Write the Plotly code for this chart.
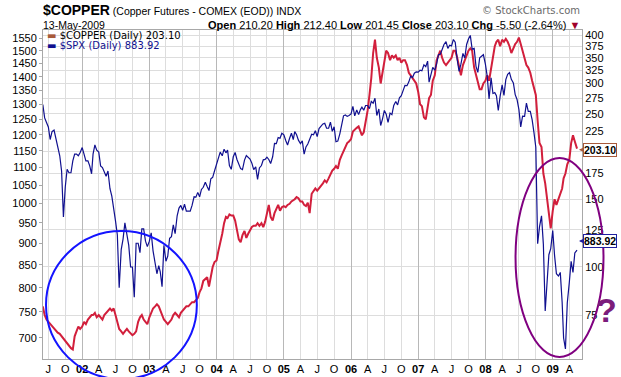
import numpy as np
import plotly.graph_objects as go

# ---------------- data (~3 samples per month) ----------------
day_marks = [1, 11, 21]
first_month = (2001, 6)
last_full_month = (2009, 4)
final_dates = ["2009-05-01", "2009-05-13"]

spx_2001 = [1300, 1255, 1240, 1225, 1185, 1210, 1215, 1190, 1160, 1135, 1090, 965,
            1045, 1095, 1085, 1085, 1120, 1140, 1140, 1135, 1145]
spx_2002 = [1160, 1140, 1120, 1120, 1105, 1082, 1140, 1168, 1152, 1146, 1105, 1100,
            1085, 1075, 1090, 1040, 1020, 990, 955, 920, 800, 885, 910, 950,
            915, 895, 845, 845, 780, 900, 900, 878, 935, 935, 905, 892]
spx_2003 = [905, 925, 882, 855, 830, 848, 835, 802, 895, 858, 870, 912,
            916, 945, 923, 968, 988, 995, 982, 998, 980, 980, 980, 995,
            1018, 1017, 1030, 1018, 1038, 1044, 1058, 1046, 1035, 1068, 1072, 1090]
spx_2004 = [1110, 1127, 1146, 1135, 1155, 1144, 1152, 1106, 1095, 1132, 1145, 1124,
            1112, 1097, 1094, 1122, 1136, 1131, 1125, 1113, 1094, 1102, 1066, 1099,
            1106, 1123, 1124, 1131, 1124, 1112, 1132, 1173, 1172, 1191, 1189, 1205]
spx_2005 = [1200, 1182, 1168, 1189, 1205, 1185, 1210, 1200, 1183, 1172, 1181, 1140,
            1162, 1171, 1189, 1202, 1200, 1213, 1194, 1220, 1227, 1235, 1237, 1221,
            1221, 1241, 1211, 1226, 1178, 1180, 1203, 1235, 1262, 1265, 1260, 1263]
spx_2006 = [1268, 1294, 1262, 1282, 1266, 1283, 1291, 1281, 1297, 1297, 1286, 1311,
            1305, 1322, 1263, 1285, 1230, 1252, 1280, 1267, 1240, 1271, 1266, 1297,
            1311, 1299, 1324, 1331, 1353, 1368, 1367, 1381, 1402, 1397, 1413, 1418]
spx_2007 = [1417, 1424, 1422, 1445, 1438, 1459, 1380, 1406, 1435, 1424, 1448, 1484,
            1486, 1505, 1525, 1536, 1509, 1522, 1519, 1545, 1534, 1465, 1420, 1447,
            1489, 1471, 1525, 1547, 1562, 1506, 1509, 1439, 1416, 1472, 1477, 1484]
spx_2008 = [1447, 1401, 1320, 1396, 1339, 1342, 1331, 1280, 1329, 1370, 1332, 1389,
            1409, 1415, 1390, 1377, 1335, 1318, 1284, 1225, 1261, 1260, 1305, 1277,
            1277, 1249, 1207, 1161, 899, 940, 968, 898, 752, 816, 873, 887]
spx_2009 = [931, 871, 830, 825, 833, 770, 700, 680, 768, 811, 858, 833, 877, 883.92]

copper_2001 = [79, 75, 73, 72, 71, 70, 69, 68, 67.5, 67, 66, 65,
               64, 63, 62.5, 61.5, 61, 66, 68, 70, 69]
copper_2002 = [70, 72, 71, 73, 74, 75, 75, 76, 74, 75, 74, 73,
               75, 76, 77, 78, 77, 78, 75, 72, 69, 68, 67, 68,
               69, 68, 67, 66.5, 67, 68, 72, 74, 75, 73, 72, 71]
copper_2003 = [74, 76, 78, 79, 80, 79, 77, 75, 73, 72, 71, 72,
               73, 75, 76, 75, 74, 76, 77, 78, 79, 79, 80, 81,
               81, 82, 83, 86, 88, 92, 93, 94, 89, 95, 100, 103]
copper_2004 = [104, 110, 115, 122, 130, 135, 134, 137, 136, 136, 132, 124,
               118, 116, 121, 124, 119, 122, 125, 127, 128, 128, 130, 128,
               130, 127, 131, 137, 145, 135, 132, 138, 142, 145, 140, 143]
copper_2005 = [144, 143, 145, 146, 148, 149, 150, 152, 151, 148, 148, 145,
               144, 147, 138, 155, 158, 160, 158, 160, 162, 165, 168, 166,
               170, 175, 178, 180, 183, 180, 190, 195, 200, 205, 210, 212]
copper_2006 = [215, 225, 228, 230, 232, 225, 220, 224, 238, 255, 280, 310,
               360, 390, 350, 330, 300, 320, 345, 365, 360, 345, 355, 350,
               355, 345, 350, 340, 345, 345, 335, 320, 315, 310, 305, 300]
copper_2007 = [285, 265, 262, 245, 242, 265, 275, 280, 305, 315, 345, 355,
               365, 350, 340, 335, 340, 345, 350, 365, 365, 350, 330, 315,
               335, 345, 355, 365, 370, 365, 330, 315, 305, 290, 290, 300]
copper_2008 = [305, 315, 305, 330, 355, 375, 385, 390, 375, 390, 385, 392,
               385, 375, 360, 370, 380, 385, 395, 380, 365, 345, 335, 330,
               320, 305, 290, 280, 240, 210, 205, 175, 165, 150, 140, 126]
copper_2009 = [140, 150, 145, 150, 155, 160, 170, 175, 185, 190, 210, 220, 212, 203.10]

spx_ticks = [700, 750, 800, 850, 900, 950, 1000, 1050, 1100, 1150, 1200, 1250,
             1300, 1350, 1400, 1450, 1500, 1550]
copper_ticks = [75, 100, 125, 150, 175, 200, 225, 250, 275, 300, 325, 350, 375, 400]
copper_ticktext = ["75", "100", "125", "150", "175", "", "225", "250", "275",
                   "300", "325", "350", "375", "400"]
quarter_letters = {4: "A", 7: "J", 10: "O"}

# ---------------- build series ----------------
dates = []
y, m = first_month
while (y, m) <= last_full_month:
    for d in day_marks:
        dates.append(f"{y}-{m:02d}-{d:02d}")
    m += 1
    if m > 12:
        m, y = 1, y + 1
dates += final_dates

spx = spx_2001 + spx_2002 + spx_2003 + spx_2004 + spx_2005 + spx_2006 + spx_2007 + spx_2008 + spx_2009
copper = (copper_2001 + copper_2002 + copper_2003 + copper_2004 + copper_2005 +
          copper_2006 + copper_2007 + copper_2008 + copper_2009)
assert len(spx) == len(dates) == len(copper)

x_tick_dates, x_tick_text, year_dates = [], [], []
for yy in range(2001, 2010):
    for mm in (1, 4, 7, 10):
        dt = f"{yy}-{mm:02d}-01"
        if dt < "2001-06-15" or dt > "2009-05-31":
            continue
        x_tick_dates.append(dt)
        if mm == 1:
            x_tick_text.append(f"<b>{str(yy)[2:]}</b>")
            year_dates.append(dt)
        else:
            x_tick_text.append(quarter_letters[mm])

x_range = ["2001-06-02", "2009-06-09"]
spx_range = [2.8209, 3.1999]
copper_range = [1.7607, 2.6162]

COPPER_RED = "#d21f3c"
COPPER_BROWN = "#a85a3a"
SPX_BLUE = "#10108f"
FONT = "Liberation Sans, Arial, sans-serif"
VFONT = "DejaVu Sans, Verdana, sans-serif"

fig = go.Figure()
fig.add_trace(go.Scatter(x=dates, y=copper, mode="lines", name="$COPPER (Daily) 203.10",
                         line=dict(color=COPPER_RED, width=2), xaxis="x", yaxis="y"))
fig.add_trace(go.Scatter(x=dates, y=spx, mode="lines", name="$SPX (Daily) 883.92",
                         line=dict(color=SPX_BLUE, width=1.2), xaxis="x2", yaxis="y2"))

fig.update_layout(
    width=621, height=377,
    margin=dict(l=43, r=38.5, t=30, b=18, autoexpand=False),
    paper_bgcolor="white", plot_bgcolor="white",
    showlegend=False,
    font=dict(family=FONT, size=11, color="black"),
    xaxis=dict(type="date", range=x_range, tickvals=x_tick_dates, ticktext=x_tick_text,
               showgrid=True, gridcolor="#dddddd", gridwidth=1, zeroline=False,
               showline=True, linecolor="#a8a8a8", mirror=True, ticks="",
               automargin=False,
               tickfont=dict(size=11, family=FONT, color="black")),
    xaxis2=dict(type="date", range=x_range, overlaying="x", tickvals=year_dates,
                showticklabels=False, showgrid=True, gridcolor="#b8b8b8", ticks="",
                showline=False, zeroline=False, automargin=False),
    yaxis=dict(type="log", range=copper_range, side="right", tickvals=copper_ticks,
               ticktext=copper_ticktext, showgrid=True, gridcolor="#dddddd",
               showline=True, linecolor="#a8a8a8", ticks="", zeroline=False,
               automargin=False,
               tickfont=dict(size=11, family=FONT, color="black")),
    yaxis2=dict(type="log", range=spx_range, side="left", overlaying="y",
                tickvals=spx_ticks, ticktext=[str(v) for v in spx_ticks],
                showgrid=False, showline=True, linecolor="#a8a8a8", ticks="outside",
                ticklen=3, tickcolor="#a8a8a8", zeroline=False, automargin=False,
                tickfont=dict(size=11, family=FONT, color="black")),
)

annotations = [
    dict(text="<span style='font-size:14px'><b>$COPPER</b></span> (Copper Futures - COMEX (EOD)) INDX",
         x=-0.003, y=1.06, xref="paper", yref="paper", xanchor="left", yanchor="middle",
         showarrow=False, font=dict(size=10.5, family=FONT, color="black")),
    dict(text="© StockCharts.com", x=1.0, y=1.058, xref="paper", yref="paper",
         xanchor="right", yanchor="middle", showarrow=False,
         font=dict(size=10, family=VFONT, color="#6a6a6a")),
    dict(text="13-May-2009", x=-0.003, y=1.016, xref="paper", yref="paper",
         xanchor="left", yanchor="middle", showarrow=False,
         font=dict(size=10.5, family=FONT, color="black")),
    dict(text="<b>Open</b> 210.20 <b>High</b> 212.40 <b>Low</b> 201.45 <b>Close</b> 203.10 "
              "<b>Chg</b> -5.50 (-2.64%) <span style='color:#a0002a'>▼</span>",
         x=1.0, y=1.016, xref="paper", yref="paper", xanchor="right", yanchor="middle",
         showarrow=False, font=dict(size=11, family=FONT, color="black")),
    dict(text=f"<span style='color:{COPPER_BROWN}'>▬</span> $COPPER (Daily) 203.10",
         x=0.003, y=0.982, xref="paper", yref="paper", xanchor="left", yanchor="middle",
         showarrow=False, font=dict(size=10, family=VFONT, color="black")),
    dict(text=f"<span style='color:{SPX_BLUE}'>▬ $SPX (Daily) 883.92</span>",
         x=0.003, y=0.954, xref="paper", yref="paper", xanchor="left", yanchor="middle",
         showarrow=False, font=dict(size=10, family=VFONT, color=SPX_BLUE)),
    dict(text="<b>203.10</b>", x=1.0, y=float(np.log10(copper[-1])), xref="paper", yref="y",
         xshift=-3, yshift=-1, showarrow=True, ax=4, ay=0, xanchor="left",
         arrowhead=2, arrowsize=1, arrowwidth=1,
         arrowcolor=COPPER_BROWN, standoff=0, bordercolor=COPPER_BROWN, borderwidth=1,
         borderpad=0, bgcolor="white", font=dict(size=10.5, family=FONT, color="black")),
    dict(text="<b>883.92</b>", x=1.0, y=float(np.log10(spx[-1])), xref="paper", yref="y2",
         xshift=-3, yshift=9, showarrow=True, ax=4, ay=0, xanchor="left",
         arrowhead=2, arrowsize=1, arrowwidth=1,
         arrowcolor="#2020a0", standoff=0, bordercolor="#2020a0", borderwidth=1,
         borderpad=0, bgcolor="white", font=dict(size=10.5, family=FONT, color="black")),
    dict(text="<b>?</b>", x=1.045, y=0.15, xref="paper", yref="paper",
         xanchor="center", yanchor="middle", showarrow=False,
         font=dict(size=34, family=FONT, color="#7b1c7b")),
]
fig.update_layout(annotations=annotations)

fig.add_shape(type="circle", xref="paper", yref="paper",
              x0=0.0056, x1=0.2854, y0=-0.061, y1=0.389,
              line=dict(color="#1414ff", width=2))
fig.add_shape(type="circle", xref="paper", yref="paper",
              x0=0.8767, x1=1.0399, y0=0.006, y1=0.611,
              line=dict(color="#800080", width=2))

# remove the page's default 8px body margin so the figure sits at the window's corner
fig.write_html("out.html",
               config={"displayModeBar": False},
               post_script="document.body.style.margin='0px';document.body.style.overflow='hidden';")
